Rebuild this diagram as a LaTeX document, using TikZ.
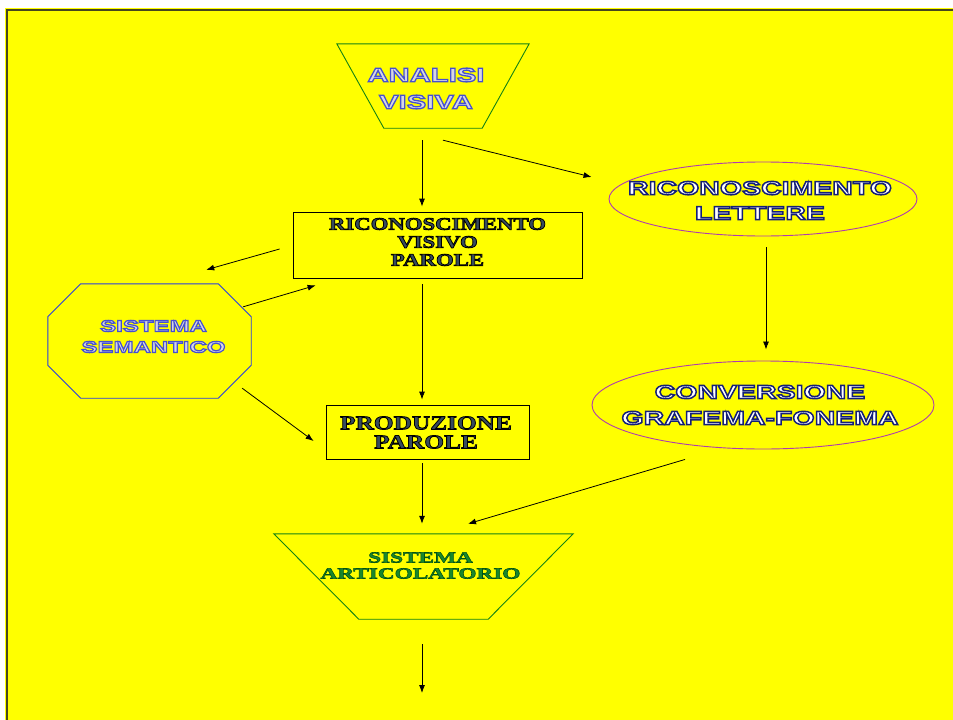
\documentclass[tikz,border=0pt]{standalone}
\usepackage{fontspec}
\usetikzlibrary{shapes.geometric,arrows.meta}
\newfontfamily\wsans[FakeStretch=1.5]{Liberation Sans}
\newfontfamily\wserif[FakeStretch=1.3]{Liberation Serif}
\newfontfamily\wserifw[FakeStretch=1.5]{Liberation Serif}
\definecolor{bgy}{RGB}{255,255,0}
\definecolor{bord}{RGB}{70,70,30}
\definecolor{trapg}{RGB}{20,130,20}
\definecolor{ellp}{RGB}{175,60,175}
\definecolor{octb}{RGB}{40,60,225}
\definecolor{fillgray}{RGB}{215,215,225}
\definecolor{slate}{RGB}{55,75,95}
\definecolor{txtg}{RGB}{25,135,45}
% outlined text: #1 stroke RGB (0-1), #2 stroke width, #3 fill colour, #4 text
\newcommand{\oltxt}[4]{{\color{#3}\special{pdf:literal direct #1 RG #2 w 2 Tr}#4\special{pdf:literal direct 0 Tr}}}
\tikzset{
  box/.style={draw=black, line width=0.8pt, inner sep=0pt},
  ghost/.style={inner sep=0pt},
  arr/.style={-{Latex[length=8pt,width=6pt]}, line width=0.8pt, black},
  lbl/.style={align=center, inner sep=0pt},
}
\begin{document}
\begin{tikzpicture}[x=1pt,y=-1pt]
\useasboundingbox (0,0) rectangle (953,720);
\fill[bgy] (5,8) rectangle (953,720);
\draw[bord, line width=2pt] (7,720) -- (7,10) -- (953,10);

% ---- shapes
\node[ghost, minimum width=192pt, minimum height=84pt] (av) at (433,86) {};
\draw[trapg, line width=0.9pt] (av.north west) -- (av.north east) -- ([xshift=-47pt]av.south east) -- ([xshift=47pt]av.south west) -- cycle;

\node[box, minimum width=289pt, minimum height=66pt] (rvp) at (437.5,245) {};

\node[ellipse, draw=ellp, line width=0.9pt, inner sep=0pt, minimum width=308pt, minimum height=74pt] (rl) at (763,199) {};

\node[ghost, minimum width=203pt, minimum height=114pt] (sem) at (149.5,341) {};
\draw[octb, line width=0.9pt] ([xshift=33pt]sem.north west) -- ([xshift=-33pt]sem.north east) -- ([yshift=-33pt]sem.north east) -- ([yshift=33pt]sem.south east) -- ([xshift=-33pt]sem.south east) -- ([xshift=33pt]sem.south west) -- ([yshift=33pt]sem.south west) -- ([yshift=-33pt]sem.north west) -- cycle;

\node[ellipse, draw=ellp, line width=0.9pt, inner sep=0pt, minimum width=342pt, minimum height=88pt] (cg) at (763,405) {};

\node[box, minimum width=203pt, minimum height=54pt] (pp) at (427.5,432) {};

\node[ghost, minimum width=299pt, minimum height=85pt] (sa) at (423.5,576.5) {};
\draw[trapg, line width=0.9pt] (sa.north west) -- (sa.north east) -- ([xshift=-85pt]sa.south east) -- ([xshift=85pt]sa.south west) -- cycle;

% ---- texts
\node[lbl, font=\wsans\bfseries\fontsize{19.5}{27}\selectfont] (avT) at (426,88.5) {\oltxt{0.27 0.31 0.82}{1.3}{fillgray}{ANALISI}\\\oltxt{0.27 0.31 0.82}{1.3}{fillgray}{VISIVA}};

\node[lbl, font=\wserif\bfseries\fontsize{17.5}{18}\selectfont] (rvpT) at (437.5,242) {\oltxt{0 0 0}{0.8}{slate}{RICONOSCIMENTO}\\\oltxt{0 0 0}{0.8}{slate}{VISIVO}\\\oltxt{0 0 0}{0.8}{slate}{PAROLE}};

\node[lbl, font=\wsans\bfseries\fontsize{19}{25}\selectfont] (rlT) at (760,200.5) {\oltxt{0.08 0.12 0.47}{1.5}{white}{RICONOSCIMENTO}\\\oltxt{0.08 0.12 0.47}{1.5}{white}{LETTERE}};

\node[lbl, font=\wsans\bfseries\fontsize{16}{21}\selectfont] (semT) at (153.5,336.5) {\oltxt{0.27 0.31 0.82}{1.2}{fillgray}{SISTEMA}\\\oltxt{0.27 0.31 0.82}{1.2}{fillgray}{SEMANTICO}};

\node[lbl, font=\wsans\bfseries\fontsize{19}{26}\selectfont] (cgT) at (760,405) {\oltxt{0.08 0.12 0.47}{1.5}{white}{CONVERSIONE}\\\oltxt{0.08 0.12 0.47}{1.5}{white}{GRAFEMA-FONEMA}};

\node[lbl, font=\wserif\bfseries\fontsize{19.5}{19}\selectfont] (ppT) at (426,432.5) {\oltxt{0 0 0}{0.8}{slate}{PRODUZIONE}\\\oltxt{0 0 0}{0.8}{slate}{PAROLE}};

\node[lbl, font=\wserifw\bfseries\fontsize{15.5}{16}\selectfont] (saT) at (420.5,565.5) {\oltxt{0 0.33 0.08}{0.6}{txtg}{SISTEMA}\\\oltxt{0 0.33 0.08}{0.6}{txtg}{ARTICOLATORIO}};

% ---- connectors
\coordinate (out) at (422,693);
\draw[arr] ([shift={(-11pt,-12pt)}]av.south) -- ([shift={(-15.5pt,5pt)}]rvp.north);
\draw[arr] ([shift={(10pt,-12pt)}]av.south) -- ([shift={(-17pt,22pt)}]rl.west);
\draw[arr] ([shift={(-13pt,-4pt)}]rvp.west) -- ([shift={(-45pt,14pt)}]sem.north east);
\draw[arr] ([shift={(-8pt,-23pt)}]sem.north east) -- ([shift={(23pt,-7pt)}]rvp.south west);
\draw[arr] ([shift={(-15.5pt,-6pt)}]rvp.south) -- ([shift={(-5.5pt,5pt)}]pp.north);
\draw[arr] ([shift={(-9pt,10pt)}]sem.south east) -- ([shift={(-12pt,-9pt)}]pp.west);
\draw[arr] ([shift={(3pt,-11pt)}]rl.south) -- ([shift={(3pt,11pt)}]cg.north);
\draw[arr] ([shift={(-78pt,-10pt)}]cg.south) -- ([shift={(44.5pt,10pt)}]sa.north);
\draw[arr] ([shift={(-5.5pt,-4pt)}]pp.south) -- ([shift={(-1.5pt,10pt)}]sa.north);
\draw[arr] ([shift={(-1.5pt,-25pt)}]sa.south) -- (out);
\end{tikzpicture}
\end{document}
